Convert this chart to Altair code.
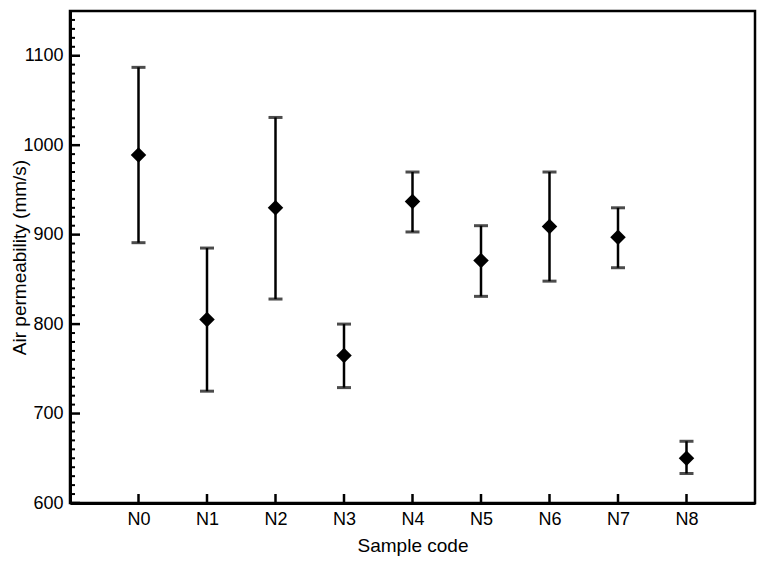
import altair as alt
import pandas as pd

samples = ["N0", "N1", "N2", "N3", "N4", "N5", "N6", "N7", "N8"]
means = [989, 805, 930, 765, 937, 871, 909, 897, 650]
lows = [891, 725, 828, 729, 903, 831, 848, 863, 633]
highs = [1087, 885, 1031, 800, 970, 910, 970, 930, 669]

major_ticks = [600, 700, 800, 900, 1000, 1100]
minor_ticks = [v for v in range(600, 1151, 10) if v not in major_ticks]

df = pd.DataFrame({"sample": samples, "mean": means, "low": lows, "high": highs})
df_major = pd.DataFrame({"v": major_ticks})
df_minor = pd.DataFrame({"v": minor_ticks})

W, H = 685, 492
FONT = "Liberation Sans"

xscale = alt.Scale(type="point", padding=1, domain=samples)
yscale = alt.Scale(domain=[600, 1150], nice=False, zero=False)

xaxis = alt.Axis(orient="bottom", title="Sample code", ticks=False,
                 labelAngle=0, labelPadding=7, domainWidth=3,
                 domainColor="black", titlePadding=8)
yaxis = alt.Axis(orient="left", title="Air permeability (mm/s)",
                 values=major_ticks, ticks=False, labelPadding=7,
                 format="d", domainWidth=3, domainColor="black",
                 titleX=-41)


def X():
    return alt.X("sample:N", scale=xscale, sort=samples, axis=xaxis, title="Sample code")


def Y(field):
    return alt.Y(field, scale=yscale, axis=yaxis, title="Air permeability (mm/s)")


bars = alt.Chart(df).mark_rule(color="black", strokeWidth=2.5).encode(
    x=X(), y=Y("low:Q"), y2="high:Q",
)
cap_hi = alt.Chart(df).mark_tick(color="black", orient="horizontal", size=14, thickness=3).encode(
    x=X(), y=Y("high:Q")
)
cap_lo = alt.Chart(df).mark_tick(color="black", orient="horizontal", size=14, thickness=3).encode(
    x=X(), y=Y("low:Q")
)
pts = alt.Chart(df).mark_point(shape="diamond", filled=True, color="black", size=240, opacity=1).encode(
    x=X(), y=Y("mean:Q")
)

# inward ticks
xticks = alt.Chart(df).mark_rule(color="black", strokeWidth=2.5).encode(
    x=X(), y=alt.value(H), y2=alt.value(H - 9)
)
yticks_major = alt.Chart(df_major).mark_rule(color="black", strokeWidth=2.5).encode(
    y=Y("v:Q"), x=alt.value(0), x2=alt.value(10)
)
yticks_minor = alt.Chart(df_minor).mark_rule(color="black", strokeWidth=2).encode(
    y=Y("v:Q"), x=alt.value(0), x2=alt.value(5)
)

chart = alt.layer(bars, cap_hi, cap_lo, pts, xticks, yticks_major, yticks_minor).properties(
    width=W, height=H,
    autosize=alt.AutoSizeParams(type="none"),
    padding={"left": 62, "top": 3, "right": 4, "bottom": 54},
).configure_view(
    stroke="black", strokeWidth=2.5
).configure_axis(
    labelFont=FONT, titleFont=FONT, labelFontSize=18, titleFontSize=19,
    labelColor="black", titleColor="black", titleFontWeight="normal", grid=False,
)

chart.save("out.html", embed_options={"renderer": "svg", "actions": False})
